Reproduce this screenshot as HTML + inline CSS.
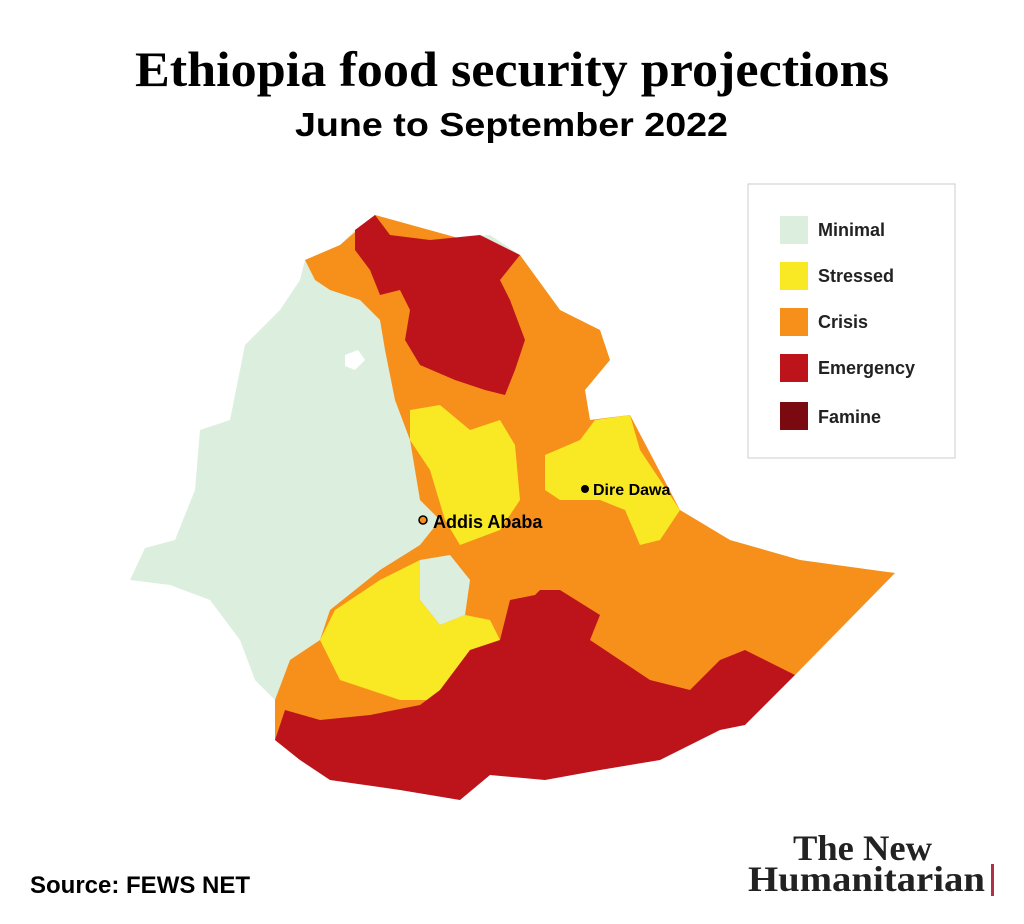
<!DOCTYPE html>
<html><head><meta charset="utf-8"><style>
body{margin:0;background:#fff;width:1024px;height:924px;overflow:hidden;position:relative;font-family:"Liberation Sans",sans-serif}
</style></head><body>
<svg width="1024" height="924" style="position:absolute;left:0;top:0">
<text x="135" y="86" textLength="754" lengthAdjust="spacingAndGlyphs" font-family="Liberation Serif" font-weight="bold" font-size="50">Ethiopia food security projections</text>
<text x="295" y="136" textLength="433" lengthAdjust="spacingAndGlyphs" font-family="Liberation Sans" font-weight="bold" font-size="33">June to September 2022</text>
<polygon fill="#dcefdf" points="375,215 430,240 490,235 520,255 560,310 600,330 610,360 585,390 590,420 630,415 640,450 680,510 730,540 800,560 895,573 795,675 745,680 720,730 660,760 600,770 545,780 490,775 460,800 400,790 330,780 300,760 275,740 275,700 255,680 240,640 210,600 170,585 130,580 145,548 175,540 195,490 200,430 230,420 245,345 280,310 300,280 305,260 340,245 355,230"/>
<polygon fill="#f7901a" points="305,260 340,245 375,215 520,255 560,310 600,330 610,360 585,390 590,420 630,415 680,510 730,540 800,560 895,573 795,675 600,770 300,760 275,740 275,700 290,660 320,640 330,610 380,570 420,545 440,520 420,500 410,440 395,400 385,350 380,320 360,300 330,290 315,280"/>
<polygon fill="#dcefdf" points="420,560 450,555 470,580 465,615 440,625 420,600"/>
<polygon fill="#f9e824" points="410,410 440,405 470,430 500,420 515,445 520,500 500,530 460,545 445,520 430,470 410,440"/>
<polygon fill="#f9e824" points="545,455 580,440 595,420 630,415 640,450 660,480 680,510 660,540 640,545 625,510 600,500 560,500 545,490"/>
<polygon fill="#f9e824" points="320,640 335,610 380,580 420,560 420,600 440,625 465,615 490,620 500,640 470,660 440,700 400,700 370,690 340,680"/>
<polygon fill="#bd141c" points="355,230 375,215 390,235 430,240 480,235 520,255 500,280 510,300 525,340 515,370 505,395 485,390 455,380 420,365 405,340 410,310 400,290 380,295 370,270 355,250"/>
<polygon fill="#bd141c" points="275,740 285,710 320,720 370,715 420,705 440,690 470,650 500,640 510,600 535,595 540,590 560,590 600,615 590,640 620,660 650,680 690,690 720,660 745,650 795,675 745,725 720,730 660,760 600,770 545,780 490,775 460,800 400,790 330,780 300,760"/>
<polygon fill="#fff" points="345,355 358,350 365,360 355,370 345,366"/>
<circle cx="423" cy="520" r="4" fill="#f7901a" stroke="#000" stroke-width="1.5"/>
<circle cx="585" cy="489" r="4" fill="#000"/>
<text x="433" y="528" font-family="Liberation Sans" font-weight="bold" font-size="18">Addis Ababa</text>
<text x="593" y="495" font-family="Liberation Sans" font-weight="bold" font-size="16">Dire Dawa</text>
<rect x="748" y="184" width="207" height="274" fill="#fff" stroke="#ccc"/>
<rect x="780" y="216" width="28" height="28" fill="#dcefdf"/>
<rect x="780" y="262" width="28" height="28" fill="#f9e824"/>
<rect x="780" y="308" width="28" height="28" fill="#f7901a"/>
<rect x="780" y="354" width="28" height="28" fill="#bd141c"/>
<rect x="780" y="402" width="28" height="28" fill="#7a0a10"/>
<g font-family="Liberation Sans" font-weight="bold" font-size="18" fill="#222">
<text x="818" y="236">Minimal</text><text x="818" y="282">Stressed</text><text x="818" y="328">Crisis</text><text x="818" y="374">Emergency</text><text x="818" y="423">Famine</text></g>
<text x="30" y="893" font-family="Liberation Sans" font-weight="bold" font-size="24">Source: FEWS NET</text>
<g font-family="Liberation Serif" font-weight="bold" font-size="36" fill="#222">
<text x="793" y="860" textLength="139" lengthAdjust="spacingAndGlyphs">The New</text>
<text x="748" y="891" textLength="237" lengthAdjust="spacingAndGlyphs">Humanitarian</text></g>
<rect x="991" y="864" width="3" height="32" fill="#b0304a"/>
</svg>
</body></html>
